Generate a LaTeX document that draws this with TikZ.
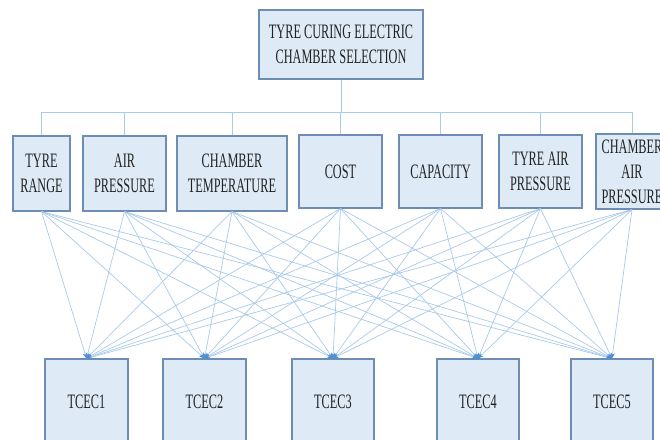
\documentclass[tikz,border=0pt]{standalone}
\usepackage{fontspec}
\setmainfont{Liberation Serif}[FakeStretch=0.6]
\usetikzlibrary{arrows.meta}
\definecolor{boxfill}{HTML}{DEEBF7}
\definecolor{boxline}{HTML}{6E8DB3}
\definecolor{wirecol}{HTML}{A9CAEA}
\definecolor{tipcol}{HTML}{4F8FD0}
\definecolor{ink}{HTML}{222222}
\begin{document}
\begin{tikzpicture}[x=1pt,y=-1pt,
  box/.style={draw=boxline, fill=boxfill, line width=1.1pt, inner sep=0pt,
    align=center, text=ink, font=\fontsize{20.5}{25}\selectfont},
  wire/.style={draw=wirecol, line width=0.7pt},
  link/.style={wire, -{Stealth[length=5.5pt,width=4.5pt,color=tipcol]}}]
  \useasboundingbox (0,0) rectangle (660,439);
  \clip (0,0) rectangle (660,439);

  % goal
  \node[box, minimum width=164pt, minimum height=69pt] (goal) at (341,44.5)
    {TYRE CURING ELECTRIC\\CHAMBER SELECTION};

  % criteria
  \node[box, minimum width=57pt, minimum height=75pt] (c1) at (41.5,173.5) {TYRE\\RANGE};
  \node[box, minimum width=83pt, minimum height=75pt] (c2) at (124.5,173.5) {AIR\\PRESSURE};
  \node[box, minimum width=110pt, minimum height=75pt] (c3) at (232,173.5) {CHAMBER\\TEMPERATURE};
  \node[box, minimum width=83pt, minimum height=73pt] (c4) at (340.5,171.5) {COST};
  \node[box, minimum width=83pt, minimum height=73pt] (c5) at (440.5,171.5) {CAPACITY};
  \node[box, minimum width=83pt, minimum height=73pt] (c6) at (540.5,171.5) {TYRE AIR\\PRESSURE};
  \node[box, minimum width=72pt, minimum height=75pt] (c7) at (632,171.5) {CHAMBER\\AIR\\PRESSURE};

  % alternatives
  \node[box, minimum width=83pt, minimum height=86pt] (a1) at (86.5,402) {TCEC1};
  \node[box, minimum width=83pt, minimum height=86pt] (a2) at (204.5,402) {TCEC2};
  \node[box, minimum width=82pt, minimum height=86pt] (a3) at (333,402) {TCEC3};
  \node[box, minimum width=82pt, minimum height=86pt] (a4) at (478,402) {TCEC4};
  \node[box, minimum width=82pt, minimum height=86pt] (a5) at (612,402) {TCEC5};

  % tree from the goal to the criteria
  \coordinate (bus) at (0,112);
  \foreach \c in {c1,c2,c3,c4,c5,c6,c7}
    \draw[wire] (goal.south) -- (goal.south |- bus) -| (\c.north);

  % every criterion linked to every alternative
  \foreach \c in {c1,c2,c3,c4,c5,c6,c7}
    \foreach \a in {a1,a2,a3,a4,a5}
      \draw[link] (\c.south) -- (\a.north);
\end{tikzpicture}
\end{document}
